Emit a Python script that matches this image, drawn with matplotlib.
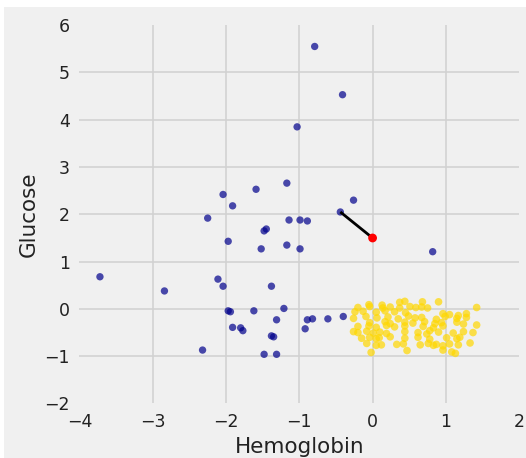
"""
Nearest neighbour picture: one new point (red) joined to the closest
training point in the Hemoglobin / Glucose plane.
"""
import matplotlib
matplotlib.use("Agg")

import matplotlib.pyplot as plt
from matplotlib.patches import Rectangle

# class 1 (blue) points, standard units
blue_hemo = [-0.79, -0.41, -1.03, -1.17, -1.59, -2.04, -0.26, -1.91, -0.44,
             -2.25, -1.14, -0.99, -0.89, -1.45, -1.48, -1.97, -1.17, -1.52,
             -0.99, 0.82, -3.72, -2.11, -2.04, -1.38, -2.84, -1.21, -1.97,
             -1.94, -1.62, -1.31, -0.89, -0.82, -0.61, -0.40, -1.91, -1.80,
             -1.77, -0.92, -1.38, -1.35, -2.32, -1.48, -1.31]
blue_gluc = [5.55, 4.53, 3.85, 2.66, 2.53, 2.42, 2.30, 2.18, 2.05,
             1.92, 1.88, 1.88, 1.86, 1.69, 1.65, 1.43, 1.35, 1.27,
             1.27, 1.21, 0.68, 0.63, 0.48, 0.48, 0.38, 0.01, -0.04,
             -0.06, -0.04, -0.23, -0.23, -0.21, -0.21, -0.16, -0.39, -0.40,
             -0.46, -0.42, -0.57, -0.59, -0.87, -0.96, -0.96]

# class 0 (gold) points
gold_hemo = [-0.05, 0.13, 0.37, 0.44, 0.68, 0.90, 1.42,
             -0.20, -0.04, 0.14, 0.24, 0.37, 0.51, 0.59, 0.67, 0.75,
             -0.24, -0.13, 0.05, 0.17, 0.30, 0.45, 0.96, 1.05, 1.17, 1.28,
             -0.26, -0.09, 0.06, 0.21, 0.35, 0.49, 0.58, 0.67, 0.87, 0.99,
             1.15, 1.28,
             -0.04, 0.17, 0.24, 0.44, 0.55, 0.71, 0.85, 0.94, 1.15, 1.24,
             -0.20, -0.05, 0.05, 0.19, 0.30, 0.44, 0.69, 0.83, 0.96, 1.42,
             -0.26, -0.20, -0.08, 0.01, 0.10, 0.19, 0.44, 0.62, 0.74, 0.78,
             0.90, 1.10, 1.24, 1.37,
             -0.15, -0.04, 0.05, 0.09, 0.24, 0.44, 0.62, 0.78, 1.01, 1.15,
             1.19,
             -0.08, 0.05, 0.12, 0.33, 0.42, 0.65, 0.76, 0.83, 0.87, 0.96,
             1.05, 1.17, 1.33,
             -0.02, 0.47, 0.96, 1.08, 1.13]
gold_gluc = [0.09, 0.08, 0.14, 0.16, 0.15, 0.15, 0.03,
             0.03, 0.05, 0.02, 0.04, 0.02, 0.05, 0.03, 0.04, 0.02,
             -0.06, -0.05, -0.07, -0.04, -0.06, -0.08, -0.10, -0.12, -0.14,
             -0.10,
             -0.20, -0.16, -0.19, -0.17, -0.21, -0.15, -0.19, -0.18, -0.22,
             -0.16, -0.20, -0.18,
             -0.29, -0.27, -0.31, -0.28, -0.30, -0.27, -0.31, -0.29, -0.28,
             -0.32,
             -0.37, -0.36, -0.39, -0.35, -0.38, -0.36, -0.37, -0.40, -0.36,
             -0.34,
             -0.48, -0.50, -0.47, -0.51, -0.49, -0.52, -0.48, -0.50, -0.53,
             -0.46, -0.49, -0.51, -0.48, -0.50,
             -0.62, -0.60, -0.63, -0.61, -0.59, -0.62, -0.60, -0.64, -0.61,
             -0.63, -0.60,
             -0.73, -0.77, -0.76, -0.75, -0.74, -0.76, -0.73, -0.77, -0.75,
             -0.78, -0.74, -0.76, -0.72,
             -0.92, -0.88, -0.87, -0.91, -0.94]

new_point = (0.0, 1.5)
nearest = (-0.44, 2.05)

plt.style.use('fivethirtyeight')

fig = plt.figure(figsize=(5.26, 4.58), dpi=100, facecolor='white')
# grey panel as in the source screenshot (thin white strip at top/left)
fig.patches.append(Rectangle((4 / 526., 0), 1, 1 - 7 / 458.,
                             transform=fig.transFigure, facecolor='#f0f0f0',
                             edgecolor='none', zorder=-10))

ax = fig.add_axes([0.151, 0.119, 0.836, 0.826])
ax.set_facecolor('#f0f0f0')

ax.scatter(gold_hemo, gold_gluc, color='gold', alpha=0.7, s=30,
           edgecolors='none', zorder=3)
ax.scatter(blue_hemo, blue_gluc, color='darkblue', alpha=0.7, s=28,
           edgecolors='none', zorder=3)
ax.plot([new_point[0], nearest[0]], [new_point[1], nearest[1]],
        color='k', lw=2, zorder=4)
ax.scatter([new_point[0]], [new_point[1]], color='red', s=40,
           edgecolors='none', zorder=5)

ax.set_xlim(-4, 2)
ax.set_ylim(-2, 6)
ax.set_xticks(range(-4, 3))
ax.set_yticks(range(-2, 7))
ax.grid(True, color='#d2d2d2', lw=1.2)
ax.set_axisbelow(True)
# no grid lines on the frame edges
for lines in (ax.xaxis.get_gridlines(), ax.yaxis.get_gridlines()):
  lines[0].set_visible(False)
  lines[-1].set_visible(False)
for spine in ax.spines.values():
  spine.set_visible(False)
ax.tick_params(axis='both', length=0, labelsize=12.5, colors='#222222')
ax.tick_params(axis='x', pad=7)
ax.tick_params(axis='y', pad=7)

ax.set_xlabel('Hemoglobin', fontsize=15.5, color='#222222', labelpad=4)
ax.set_ylabel('Glucose', fontsize=15.5, color='#222222', labelpad=4)

fig.savefig('out.png', dpi=100, facecolor=fig.get_facecolor())
